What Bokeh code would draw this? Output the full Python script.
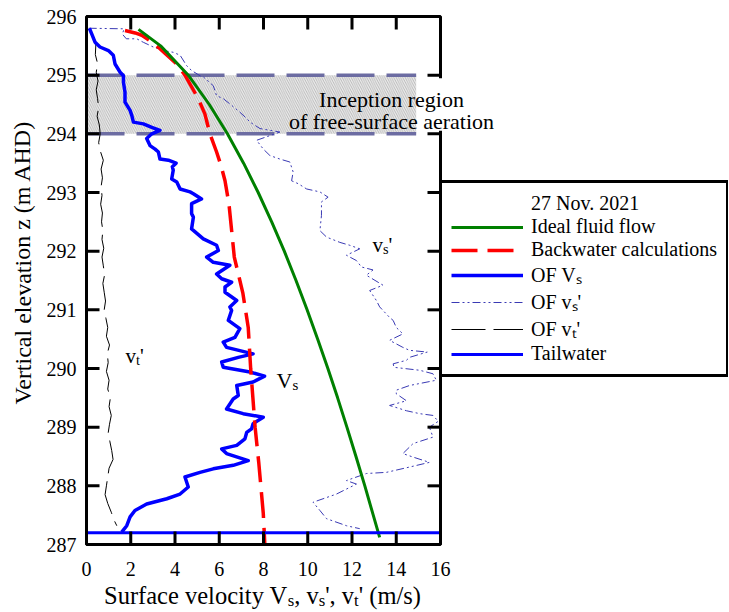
from bokeh.plotting import figure
from bokeh.models import Range1d, Legend, LegendItem, Label
from bokeh.embed import file_html
from bokeh.resources import INLINE
from bokeh.core.properties import value

FONT = "Liberation Serif"

# ---------------- data ----------------
x_ticks = [0, 2, 4, 6, 8, 10, 12, 14, 16]
top_ticks = [2, 4, 6, 8, 10, 12, 14]
y_ticks = [287, 288, 289, 290, 291, 292, 293, 294, 295, 296]
right_ticks = [288, 289, 290, 291, 292, 293, 294, 295]

ideal_z = [295.78, 295.5, 295.0, 294.5, 294.0, 293.5, 293.0, 292.5, 292.0, 291.5,
           291.0, 290.5, 290.0, 289.5, 289.0, 288.5, 288.0, 287.5, 287.12]
ideal_v = [2.35, 3.35, 4.6, 5.55, 6.37, 7.1, 7.76, 8.37, 8.94, 9.47,
           9.97, 10.45, 10.91, 11.35, 11.77, 12.18, 12.58, 12.96, 13.25]

bw_z = [295.76, 295.72, 295.68, 295.58, 295.45, 295.2, 295.0, 294.6, 294.34, 294.0,
        293.69, 293.46, 293.2, 292.8, 291.9, 291.28, 290.7, 290.0, 289.0, 288.38, 287.53, 287.0]
bw_v = [1.74, 2.2, 2.5, 2.9, 3.32, 4.05, 4.45, 5.05, 5.35, 5.58,
        5.88, 6.08, 6.26, 6.44, 6.68, 7.07, 7.31, 7.42, 7.62, 7.79, 7.99, 8.06]

vs_z = [295.80, 295.70, 295.56, 295.48, 295.42, 295.34, 295.19, 295.05, 294.99, 294.88,
        294.71, 294.54, 294.40, 294.31, 294.20, 294.17, 294.11, 294.06, 294.00, 293.92,
        293.80, 293.74, 293.69, 293.57, 293.55, 293.50, 293.44, 293.38, 293.23, 293.18,
        293.06, 293.01, 292.98, 292.89, 292.81, 292.64, 292.58, 292.38, 292.21, 292.10,
        292.01, 291.90, 291.81, 291.76, 291.61, 291.53, 291.47, 291.39, 291.30, 291.16,
        291.05, 290.99, 290.82, 290.68, 290.53, 290.45, 290.36, 290.25, 290.19, 290.11,
        290.02, 289.94, 289.87, 289.77, 289.71, 289.54, 289.48, 289.31, 289.23, 289.17,
        289.06, 288.97, 288.91, 288.80, 288.69, 288.63, 288.55, 288.43, 288.35, 288.29,
        288.23, 288.15, 287.98, 287.86, 287.78, 287.69, 287.58, 287.47, 287.32, 287.21]
vs_v = [0.13, 0.24, 0.39, 0.61, 0.99, 1.21, 1.29, 1.52, 1.67, 1.67,
        1.74, 1.74, 1.97, 2.05, 2.12, 2.57, 2.95, 3.32, 2.95, 2.72,
        2.87, 3.10, 3.25, 3.32, 3.70, 4.05, 3.88, 3.92, 3.85, 4.08,
        4.23, 4.68, 4.83, 5.20, 4.75, 4.75, 4.83, 4.75, 5.28, 5.88,
        5.96, 5.43, 5.73, 6.48, 5.88, 6.11, 6.56, 6.26, 6.26, 6.79,
        6.48, 6.56, 6.41, 6.93, 6.71, 6.18, 6.33, 7.53, 6.86, 6.11,
        6.18, 7.39, 8.05, 7.53, 6.79, 6.86, 6.63, 6.33, 7.08, 7.99,
        7.53, 7.46, 7.24, 7.16, 6.79, 6.11, 6.33, 7.31, 6.63, 5.73,
        5.13, 4.45, 4.60, 4.23, 3.63, 2.72, 2.19, 1.97, 1.82, 1.59]

vsp_z = [295.80, 295.79, 295.70, 295.62, 295.62, 295.56, 295.48, 295.42, 295.39, 295.34,
         295.16, 295.08, 294.99, 294.97, 294.82, 294.65, 294.60, 294.51, 294.37, 294.26,
         294.20, 294.09, 294.03, 293.97, 293.89, 293.74, 293.63, 293.57, 293.52, 293.35,
         293.20, 293.15, 293.06, 293.01, 292.92, 292.84, 292.61, 292.35, 292.24, 292.15,
         292.10, 292.04, 291.93, 291.84, 291.73, 291.68, 291.59, 291.42, 291.33, 291.16,
         291.05, 290.87, 290.82, 290.70, 290.59, 290.48, 290.36, 290.31, 290.28, 290.19,
         290.14, 290.08, 290.02, 289.97, 289.91, 289.80, 289.71, 289.63, 289.57, 289.45,
         289.37, 289.28, 289.23, 289.20, 289.10, 289.00, 288.83, 288.72, 288.55, 288.49,
         288.40, 288.32, 288.23, 288.21, 288.09, 288.03, 287.86, 287.72, 287.58, 287.44,
         287.32, 287.27]
vsp_v = [0.10, 1.70, 1.62, 1.80, 2.27, 2.57, 3.02, 3.47, 3.92, 4.23,
         4.53, 4.75, 5.13, 5.28, 5.73, 5.88, 6.18, 6.48, 6.93, 7.24,
         7.39, 7.84, 8.74, 8.29, 7.69, 7.99, 8.29, 8.74, 9.19, 9.34,
         9.27, 9.57, 9.95, 10.55, 10.92, 10.62, 10.62, 10.55, 10.85, 11.45,
         11.90, 12.35, 11.75, 12.20, 12.43, 12.95, 12.65, 13.40, 12.80, 13.10,
         13.25, 13.70, 13.86, 14.00, 14.30, 13.70, 14.30, 14.60, 15.40, 14.60,
         14.46, 13.86, 13.90, 15.06, 15.66, 15.81, 14.60, 14.00, 14.00, 14.46,
         13.70, 14.46, 15.06, 15.66, 15.90, 15.50, 15.66, 14.76, 14.30, 14.76,
         15.50, 14.60, 13.56, 12.65, 11.75, 12.20, 11.30, 10.24, 10.55, 10.85,
         11.75, 12.35]

vtp_z = [295.79, 295.65, 295.50, 295.35, 295.20, 295.05, 294.90, 294.75, 294.60, 294.45,
         294.30, 294.15, 294.00, 293.85, 293.70, 293.55, 293.40, 293.25, 293.10, 292.95,
         292.80, 292.65, 292.50, 292.35, 292.20, 292.05, 291.90, 291.75, 291.60, 291.45,
         291.30, 291.15, 291.00, 290.85, 290.70, 290.55, 290.40, 290.25, 290.10, 289.95,
         289.80, 289.65, 289.50, 289.35, 289.20, 289.05, 288.90, 288.75, 288.60, 288.45,
         288.30, 288.15, 288.00, 287.85, 287.70, 287.55, 287.42, 287.32]
vtp_v = [0.16, 0.31, 0.42, 0.40, 0.50, 0.44, 0.52, 0.44, 0.50, 0.55,
         0.48, 0.58, 0.62, 0.55, 0.63, 0.76, 0.66, 0.72, 0.66, 0.70,
         0.64, 0.72, 0.68, 0.74, 0.70, 0.78, 0.70, 0.76, 0.82, 0.74,
         0.80, 0.86, 0.80, 0.88, 0.96, 0.90, 1.04, 0.94, 0.98, 0.90,
         1.02, 0.96, 1.08, 1.02, 1.12, 1.04, 0.98, 1.06, 1.14, 1.20,
         1.02, 0.96, 0.90, 0.84, 0.96, 1.12, 1.24, 1.37]

tailwater_z = 287.2
tailwater_x = [0, 16]

band_z = [294.0, 295.0]
band_x = [0.0, 14.9]

legend_title = "27 Nov. 2021"
labels = ["Ideal fluid flow", "Backwater calculations", "OF V\u209b", "OF v\u209b'", "OF v\u209c'", "Tailwater"]

# ---------------- layout (pixels) ----------------
W, H = 728, 610
FL, FT = 86, 16            # plot box left / top in px
XS = 354 / 16.0            # px per m/s
YS = 528 / 9.0             # px per m


def X(px):
    return x_ticks[0] + (px - FL) / XS


def Z(py):
    return y_ticks[-1] - (py - FT) / YS


p = figure(width=W, height=H, x_range=Range1d(X(0), X(W)), y_range=Range1d(Z(H), Z(0)),
           output_backend="svg", toolbar_location=None, min_border=0,
           x_axis_location=None, y_axis_location=None,
           background_fill_color="white", border_fill_color="white")
p.grid.visible = False
p.outline_line_color = None

x0, x1 = x_ticks[0], x_ticks[-1]
y0, y1 = y_ticks[0], y_ticks[-1]
TL = 13  # tick length px

# hatched inception band
p.quad(left=[band_x[0]], right=[band_x[1]], bottom=[band_z[0]], top=[band_z[1]],
       fill_color="#ededed", line_color=None, hatch_pattern="\\", hatch_color="#a2a2a2",
       hatch_scale=4.5, hatch_weight=0.7)
for zb in band_z:
    p.line(x=band_x, y=[zb, zb], line_color="#6c6ca2", line_width=3.5, line_dash="38 12")

# curves
r_vtp = p.line(x=vtp_v, y=vtp_z, line_color="black", line_width=1, line_dash="34 8")
r_vsp = p.line(x=vsp_v, y=vsp_z, line_color="#3a3ab4", line_width=1, line_dash="8 3 2 3 2 3")
r_vs = p.line(x=vs_v, y=vs_z, line_color="#0000ff", line_width=3.5, line_join="round")
r_bw = p.line(x=bw_v, y=bw_z, line_color="#ff0000", line_width=3.5, line_dash="26 10")
r_ideal = p.line(x=ideal_v, y=ideal_z, line_color="#008000", line_width=3)
r_tw = p.line(x=tailwater_x, y=[tailwater_z, tailwater_z], line_color="#0000ff", line_width=3)
dummy = p.line(x=[x0, x0], y=[y0, y0], line_alpha=0)

# plot box and inward ticks
p.quad(left=[x0], right=[x1], bottom=[y0], top=[y1], fill_color=None,
       line_color="black", line_width=3)
p.segment(x0=x_ticks, x1=x_ticks, y0=[y0] * len(x_ticks), y1=[y0 + TL / YS] * len(x_ticks),
          line_color="black", line_width=3)
p.segment(x0=top_ticks, x1=top_ticks, y0=[y1] * len(top_ticks), y1=[y1 - TL / YS] * len(top_ticks),
          line_color="black", line_width=3)
p.segment(x0=[x0] * len(y_ticks), x1=[x0 + TL / XS] * len(y_ticks), y0=y_ticks, y1=y_ticks,
          line_color="black", line_width=3)
p.segment(x0=[x1] * len(right_ticks), x1=[x1 - TL / XS] * len(right_ticks), y0=right_ticks,
          y1=right_ticks, line_color="black", line_width=3)

# tick labels
p.text(x=[X(FL - 10)] * len(y_ticks), y=y_ticks, text=[str(t) for t in y_ticks],
       text_font=value(FONT), text_font_size="20px", text_align="right",
       text_baseline="middle", text_color="black")
p.text(x=x_ticks, y=[Z(568)] * len(x_ticks), text=[str(t) for t in x_ticks],
       text_font=value(FONT), text_font_size="20px", text_align="center",
       text_baseline="middle", text_color="black")

# white patch hiding the box edge behind the annotation text
p.quad(left=[X(418)], right=[X(498)], bottom=[band_z[0] + 3 / YS], top=[band_z[1] - 3 / YS],
       fill_color="white", line_color=None)

# ---------------- text helpers ----------------
TW = {' ': 250, "'": 180, '(': 333, ')': 333, ',': 250, '/': 278, 'S': 556, 'V': 722,
      'a': 444, 'c': 444, 'e': 444, 'f': 333, 'i': 278, 'l': 278, 'm': 778, 'o': 500,
      'r': 333, 's': 389, 't': 278, 'u': 500, 'v': 500, 'y': 500}


def tw(s, size):
    return sum(TW.get(ch, 500) for ch in s) / 1000.0 * size


def rich(xd, yd, parts, size, align="left"):
    sub = 0.68
    widths = [tw(t, size * sub if k == "sub" else size) for t, k in parts]
    total = sum(widths)
    cur = xd - (total / 2) / XS if align == "center" else xd
    for (t, k), w in zip(parts, widths):
        s = size * sub if k == "sub" else size
        y = yd - (0.2 * size) / YS if k == "sub" else yd
        lead = len(t) - len(t.lstrip(" "))
        txt = t.strip(" ")
        xx = cur + tw(" " * lead, s) / XS
        p.add_layout(Label(x=xx, y=y, text=txt, text_font=FONT, text_font_size=f"{s:.1f}px",
                           text_baseline="alphabetic", text_align="left", text_color="black"))
        cur += w / XS


# x-axis label
rich(X(262), Z(595), [("Surface velocity V", "n"), ("s", "sub"), (", v", "n"), ("s", "sub"),
                      ("', v", "n"), ("t", "sub"), ("' (m/s)", "n")], 24.5, align="center")
# y-axis label
p.text(x=[X(22)], y=[Z(262)], text=["Vertical elevation z (m AHD)"], angle=1.5708,
       text_font=value(FONT), text_font_size="24px", text_align="center",
       text_baseline="middle", text_color="black")

# in-plot labels
rich(X(125), Z(355), [("v", "n"), ("t", "sub"), ("'", "n")], 21)
rich(X(276), Z(380), [("V", "n"), ("s", "sub")], 22)
rich(X(372), Z(244), [("v", "n"), ("s", "sub"), ("'", "n")], 21)

p.add_layout(Label(x=X(391), y=Z(99), text="Inception region", text_font=FONT,
                   text_font_size="22px", text_align="center", text_baseline="alphabetic",
                   text_color="black"))
p.add_layout(Label(x=X(391), y=Z(121), text="of free-surface aeration", text_font=FONT,
                   text_font_size="22px", text_align="center", text_baseline="alphabetic",
                   text_color="black"))

# ---------------- legend ----------------
items = [LegendItem(label=legend_title, renderers=[dummy])]
for lab, r in zip(labels, [r_ideal, r_bw, r_vs, r_vsp, r_vtp, r_tw]):
    items.append(LegendItem(label=lab, renderers=[r]))
legend = Legend(items=items, location=(439, H - 377), border_line_color="black",
                border_line_width=3, border_line_alpha=1.0,
                background_fill_color="white", background_fill_alpha=1.0,
                label_text_font=FONT, label_text_font_size="20px", label_text_color="black",
                glyph_width=72, glyph_height=16, label_height=16, label_standoff=8,
                padding=9, spacing=0, margin=0)
p.add_layout(legend, "center")

open("out.html", "w").write(file_html(p, INLINE))
